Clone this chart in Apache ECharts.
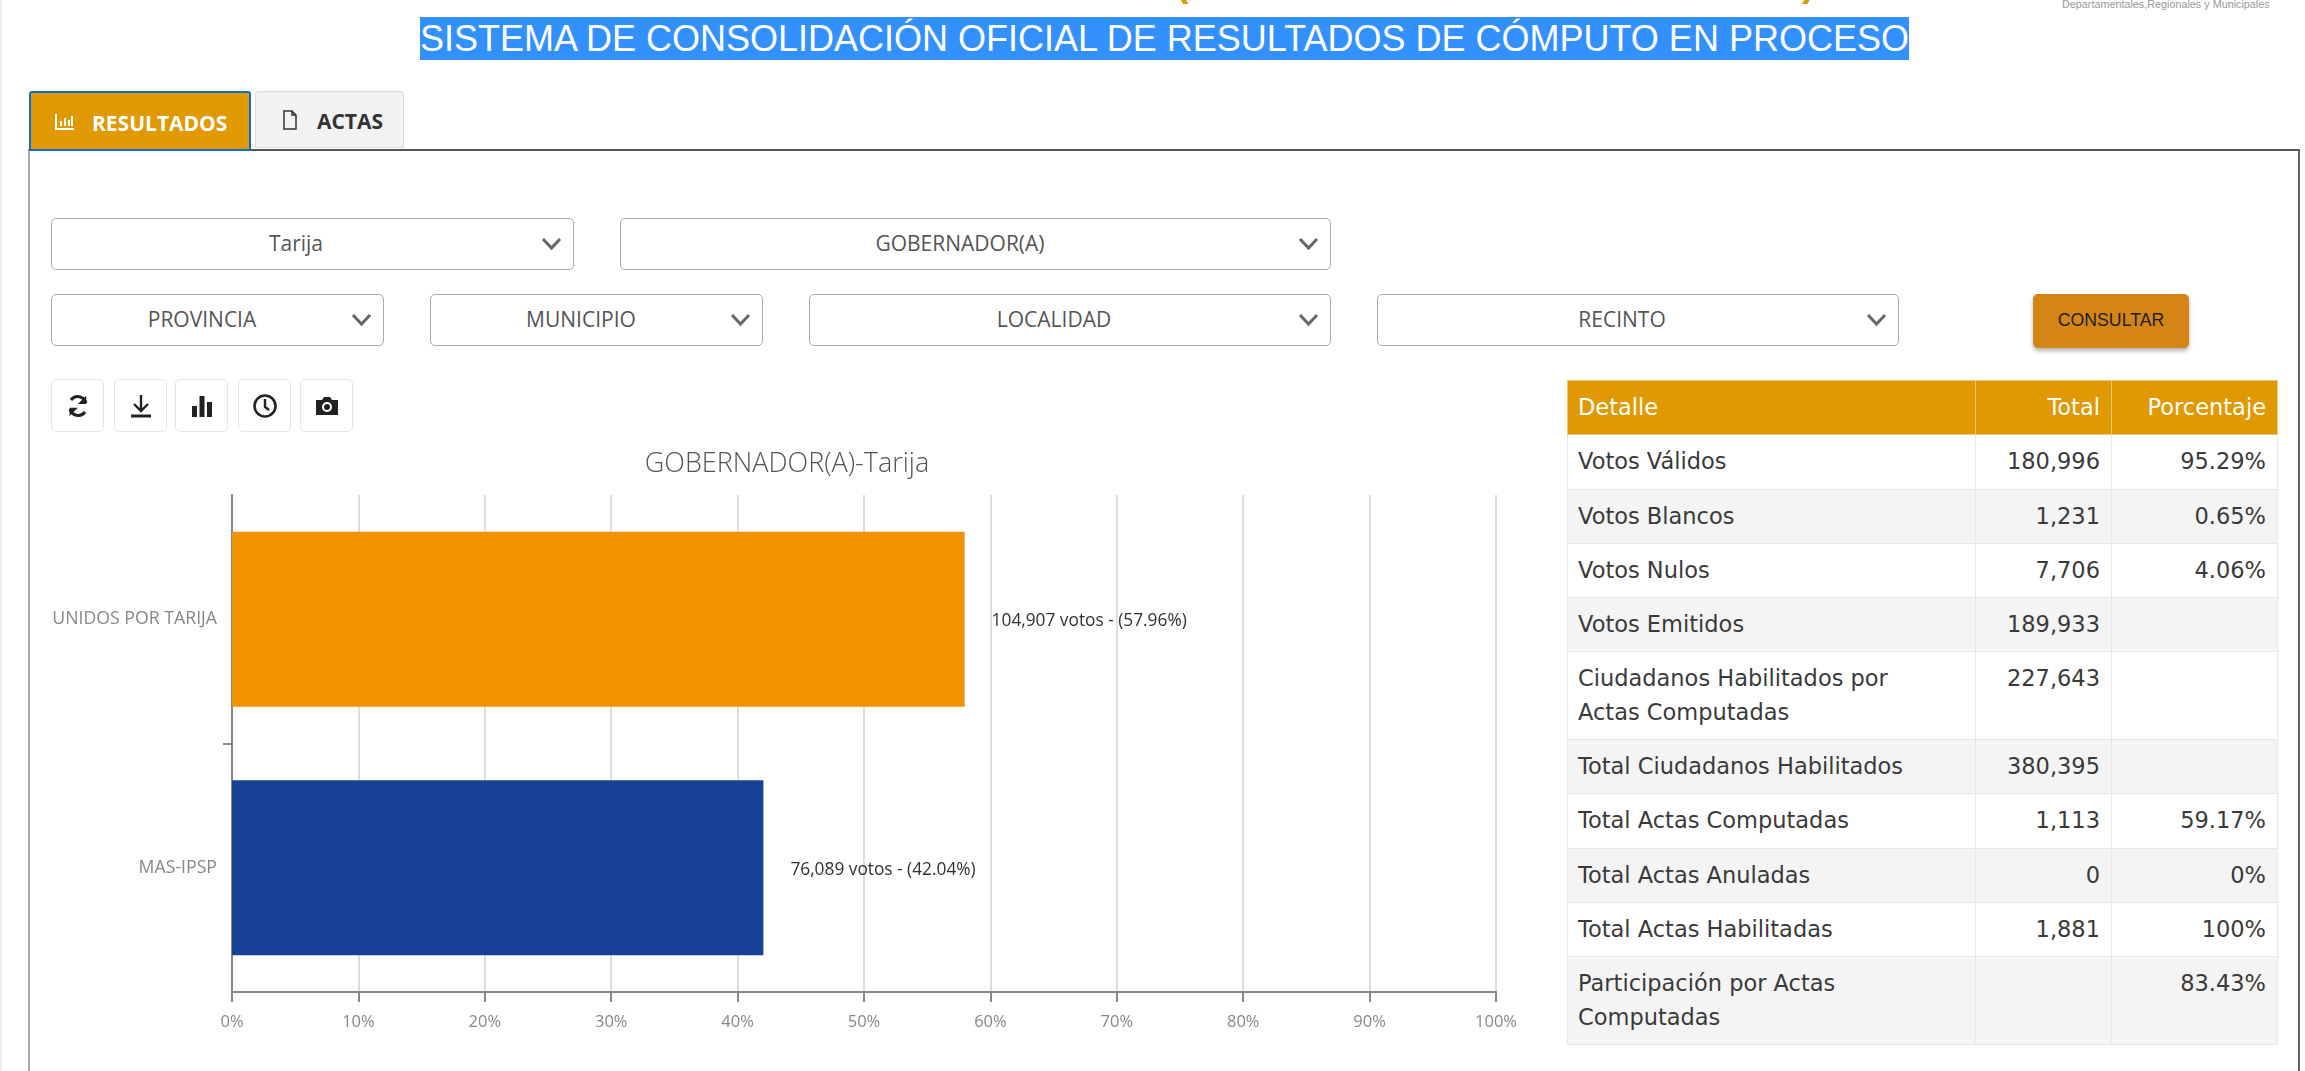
<!doctype html>
<html>
    <head>
        <meta charset="utf-8">
        <style>
            html, body { margin: 0; padding: 0; width: 2305px; height: 1071px; overflow: hidden; background: #fff; font-family: "Open Sans"; }
            .abs { position: absolute; box-sizing: border-box; }
            #pageEdge { left: 0; top: 0; width: 2px; height: 1071px; background: #eee; }
            #banner { left: 420px; top: 17px; height: 43px; background: #3390ff; color: #fff; font: 36px/43px "Liberation Sans"; white-space: nowrap; }
            .paren { top: -39px; color: #e09900; font: bold 38px/44px "Liberation Sans"; }
            #logoText { left: 2062px; top: -3px; font: 10.8px/14px "Liberation Sans"; color: #999; white-space: nowrap; }
            .tab { top: 91px; font-weight: 700; font-size: 21px; text-align: left; }
            #tabRes { left: 29px; width: 222px; height: 60px; background: #e09900; border: 2px solid #0f6fc6; color: #fff; line-height: 60px; padding-left: 61px; border-radius: 3px 3px 0 0; z-index: 2; }
            #tabActas { left: 255px; width: 149px; height: 57px; background: #f2f2f2; border: 1px solid #ddd; color: #333; line-height: 58px; padding-left: 61px; border-radius: 3px 3px 0 0; }
            #panel { left: 28px; top: 149px; width: 2272px; height: 960px; border: 2px solid #aaa; border-top-color: #555; border-right-color: #666; }
            .sel { height: 52px; border: 1.5px solid #aaa; border-radius: 5px; color: #555; font-size: 21px; line-height: 49px; text-align: center; background: #fff; }
            .sel svg { position: absolute; right: 11px; top: 18px; }
            #btnConsultar { left: 2033px; top: 294px; width: 156px; height: 54px; background: #d48515; border-radius: 5px; color: #222; font: 17.7px/53px "Liberation Sans"; text-align: center; box-shadow: 0 3px 4px rgba(0,0,0,.3); }
            .ico { top: 379px; width: 53px; height: 53px; border: 1.5px solid #e6e6e6; border-radius: 5px; background: #fff; }
            .ico svg { position: absolute; left: 13px; top: 13px; }
            #main { left: 32px; top: 440px; width: 1520px; height: 631px; }
            #tabla { left: 1567px; top: 380px; width: 710px; border-collapse: collapse; table-layout: fixed; font: 22.5px/33.3px "DejaVu Sans"; color: #3a3a3a; }
            #tabla th, #tabla td { border: 1.5px solid #e8e8e8; padding: 10px 11px 10px 10px; vertical-align: top; font-weight: 400; text-align: right; }
            #tabla th:first-child, #tabla td:first-child { text-align: left; }
            #tabla th { background: #e09900; color: #fff; border-color: #ecc777; }
            #tabla tr.par td { background: #f4f4f4; }
        </style>
    </head>
    <body>
        <div class="abs" id="pageEdge"></div>
        <div class="abs paren" style="left:1176px">(</div>
        <div class="abs paren" style="left:1802px">)</div>
        <div class="abs" id="logoText">Departamentales,Regionales y Municipales</div>
        <div class="abs" id="banner">SISTEMA DE CONSOLIDACIÓN OFICIAL DE RESULTADOS DE CÓMPUTO EN PROCESO</div>

        <div class="abs" id="panel"></div>
        <div class="abs tab" id="tabRes">RESULTADOS
            <svg class="abs" style="left:24px;top:20px" width="20" height="18" viewBox="0 0 20 18"><path d="M1 1V16H19" stroke="#fff" stroke-width="2" fill="none"/><path d="M5 13V8H7V13ZM9 13V5H11V13ZM13 13V7H15V13ZM16 13V3H18V13Z" fill="#fff"/></svg>
        </div>
        <div class="abs tab" id="tabActas">ACTAS
            <svg class="abs" style="left:26px;top:18px" width="16" height="20" viewBox="0 0 16 20"><path d="M2 1H10L14 5V19H2ZM10 1V5H14" stroke="#333" stroke-width="1.5" fill="none"/></svg>
        </div>

        <div id="selects"></div>
        <div class="abs" id="btnConsultar">CONSULTAR</div>

        <div class="abs ico" style="left:51px"><svg width="26" height="26" viewBox="0 0 26 26"><path d="M21 10A8.5 8.5 0 0 0 6 7M5 16A8.5 8.5 0 0 0 20 19" stroke="#222" stroke-width="3" fill="none"/><path d="M22 2V11H13ZM4 24V15H13Z" fill="#222" transform="scale(.92) translate(1 1)"/></svg></div>
        <div class="abs ico" style="left:114px"><svg width="26" height="26" viewBox="0 0 26 26"><path d="M13 2V17M6 11L13 18L20 11" stroke="#222" stroke-width="2.4" fill="none"/><path d="M3 23H23" stroke="#222" stroke-width="3"/></svg></div>
        <div class="abs ico" style="left:175px"><svg width="26" height="26" viewBox="0 0 26 26"><path d="M3 13H8V24H3ZM10.5 3H15.5V24H10.5ZM18 9H23V24H18Z" fill="#222"/></svg></div>
        <div class="abs ico" style="left:238px"><svg width="26" height="26" viewBox="0 0 26 26"><circle cx="13" cy="13" r="10.5" stroke="#222" stroke-width="2.6" fill="none"/><path d="M13 6V14L17 17" stroke="#222" stroke-width="2.4" fill="none"/></svg></div>
        <div class="abs ico" style="left:300px"><svg width="26" height="26" viewBox="0 0 26 26"><path d="M2 7H8L10 4H16L18 7H24V22H2Z" fill="#222"/><circle cx="13" cy="14" r="5" fill="#fff"/><circle cx="13" cy="14" r="3" fill="#222"/></svg></div>

        <div class="abs" id="main"></div>
        <table class="abs" id="tabla"></table>

        <script src="https://cdn.jsdelivr.net/npm/echarts@6/dist/echarts.min.js"></script>
        <script>
            // selects of the filter form
            var selects = [
                ['Tarija', 51, 218, 523, 295],
                ['GOBERNADOR(A)', 620, 218, 711, 959],
                ['PROVINCIA', 51, 294, 333, 201],
                ['MUNICIPIO', 430, 294, 333, 580],
                ['LOCALIDAD', 809, 294, 522, 1053],
                ['RECINTO', 1377, 294, 522, 1621]
            ];
            var html = '';
            selects.forEach(function (s) {
                html += '<div class="abs sel" style="left:' + s[1] + 'px;top:' + s[2] + 'px;width:' + s[3] + 'px">'
                    + '<span class="abs" style="left:' + (s[4] - s[1] - 150) + 'px;width:300px">' + s[0] + '</span>'
                    + '<svg width="21" height="14" viewBox="0 0 21 14"><path d="M2 2L10.5 11L19 2" stroke="#666" stroke-width="3" fill="none"/></svg></div>';
            });
            document.getElementById('selects').innerHTML = html;

            var detalle = [
                ['Votos Válidos', '180,996', '95.29%'],
                ['Votos Blancos', '1,231', '0.65%'],
                ['Votos Nulos', '7,706', '4.06%'],
                ['Votos Emitidos', '189,933', ''],
                ['Ciudadanos Habilitados por<br>Actas Computadas', '227,643', ''],
                ['Total Ciudadanos Habilitados', '380,395', ''],
                ['Total Actas Computadas', '1,113', '59.17%'],
                ['Total Actas Anuladas', '0', '0%'],
                ['Total Actas Habilitadas', '1,881', '100%'],
                ['Participación por Actas<br>Computadas', '', '83.43%']
            ];
            var rows = '<colgroup><col style="width:408px"><col style="width:136px"><col style="width:166px"></colgroup>'
                + '<tr><th>Detalle</th><th>Total</th><th>Porcentaje</th></tr>';
            detalle.forEach(function (d, i) {
                rows += '<tr' + (i % 2 ? ' class="par"' : '') + '><td>' + d[0] + '</td><td>' + d[1] + '</td><td>' + d[2] + '</td></tr>';
            });
            document.getElementById('tabla').innerHTML = rows;

            // bottom to top, as the category axis draws them
            var resultados = [
                { name: 'MAS-IPSP', votos: '76,089', pct: 42.04, color: '#164194' },
                { name: 'UNIDOS POR TARIJA', votos: '104,907', pct: 57.96, color: '#f39200' }
            ];

            var chart = echarts.init(document.getElementById('main'));
            chart.setOption({
                animation: false,
                textStyle: { fontFamily: 'Open Sans' },
                title: {
                    text: 'GOBERNADOR(A)-Tarija',
                    left: 750,
                    top: 6,
                    textAlign: 'center',
                    textStyle: { fontSize: 27, fontWeight: 300, color: '#555', fontFamily: 'Open Sans' }
                },
                grid: { left: 200, right: 56, top: 55, bottom: 79 },
                xAxis: {
                    type: 'value',
                    min: 0,
                    max: 100,
                    interval: 10,
                    axisLine: { show: true, lineStyle: { color: '#888', width: 2 } },
                    axisTick: { show: true, length: 10, lineStyle: { color: '#888', width: 2 } },
                    axisLabel: { formatter: '{value}%', color: '#888', fontSize: 16.5, margin: 22 },
                    splitLine: { show: true, lineStyle: { color: '#ddd', width: 2 } }
                },
                yAxis: [{
                    type: 'category',
                    data: resultados.map(function (r) { return r.name; }),
                    axisLine: { show: true, lineStyle: { color: '#888', width: 2 } },
                    axisTick: { show: false },
                    axisLabel: { color: '#888', fontSize: 17.7, margin: 15, padding: [3, 0, 0, 0] }
                }, {
                    // only carries the tick between the two bands, the reference has none at the ends
                    type: 'value',
                    position: 'left',
                    min: 0,
                    max: 2,
                    interval: 1,
                    axisLine: { show: false },
                    axisLabel: { show: false },
                    splitLine: { show: false },
                    axisTick: { show: true, length: 9, customValues: [1], lineStyle: { color: '#666', width: 1.5 } }
                }],
                series: [{
                    type: 'bar',
                    barWidth: 175,
                    data: resultados.map(function (r) {
                        return { value: r.pct, itemStyle: { color: r.color } };
                    }),
                    label: {
                        show: true,
                        position: 'right',
                        distance: 27,
                        offset: [0, 2],
                        color: '#333',
                        fontSize: 17.3,
                        formatter: function (p) {
                            var r = resultados[p.dataIndex];
                            return r.votos + ' votos - (' + r.pct.toFixed(2) + '%)';
                        }
                    }
                }]
            });
        </script>
    </body>
</html>
